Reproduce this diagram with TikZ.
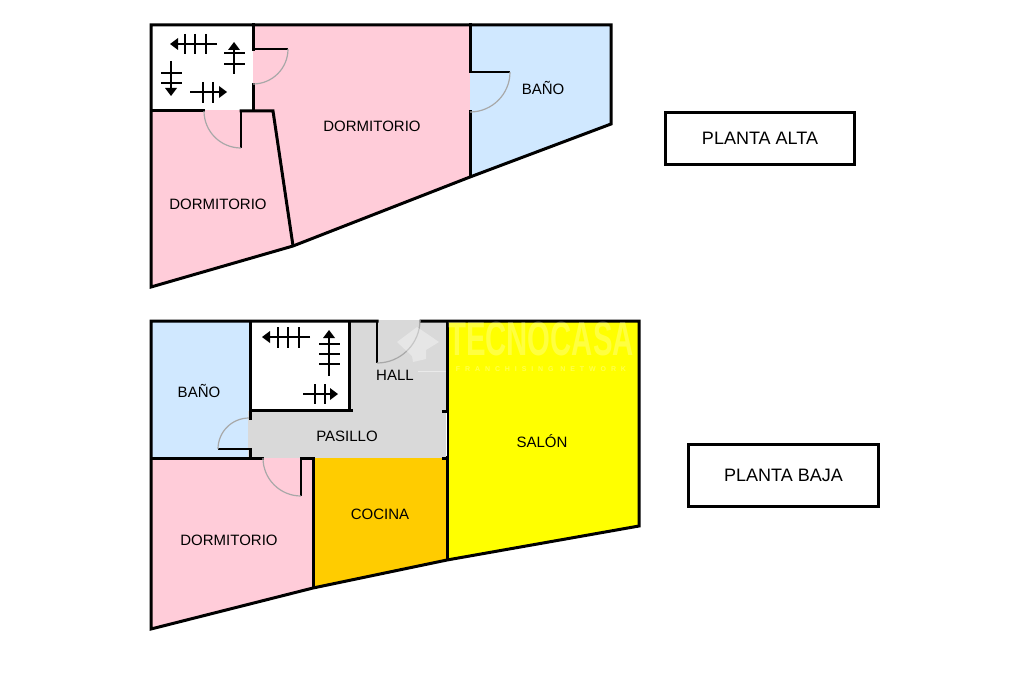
\documentclass[tikz,border=0pt]{standalone}
\usepackage{fontspec}
\setmainfont{Liberation Sans}
\definecolor{rosa}{HTML}{FFCCD9}
\definecolor{azul}{HTML}{D0E8FF}
\definecolor{gris}{HTML}{D9D9D9}
\definecolor{naranja}{HTML}{FFCC00}
\definecolor{amarillo}{HTML}{FFFF00}
\definecolor{puerta}{HTML}{A8A8A8}
\tikzset{
 x=1pt,y=-1pt,
 wall/.style={line width=3pt,line cap=rect,line join=miter,black},
 leaf/.style={line width=2pt,black},
 swing/.style={line width=1.2pt,puerta},
 run/.style={line width=2.4pt,black},
 tread/.style={line width=1.1pt,black},
 head/.style={fill=black,draw=none},
 room/.style={font=\fontsize{15}{15}\selectfont,inner sep=0pt},
 tag/.style={draw,line width=3pt,inner sep=0pt,font=\fontsize{18}{19}\selectfont},
}
\newcommand{\arrowL}[3]{\draw[run] (#1,#3)--(#2+6,#3); \fill[head] (#2,#3)--(#2+8,#3-6)--(#2+8,#3+6)--cycle;}
\newcommand{\arrowR}[3]{\draw[run] (#1,#3)--(#2-6,#3); \fill[head] (#2,#3)--(#2-8,#3-6)--(#2-8,#3+6)--cycle;}
\newcommand{\arrowU}[3]{\draw[run] (#3,#1)--(#3,#2+6); \fill[head] (#3,#2)--(#3-6,#2+8)--(#3+6,#2+8)--cycle;}
\newcommand{\arrowD}[3]{\draw[run] (#3,#1)--(#3,#2-6); \fill[head] (#3,#2)--(#3-6,#2-8)--(#3+6,#2-8)--cycle;}
\begin{document}
\begin{tikzpicture}
\useasboundingbox (0,0) rectangle (1024,682);
\fill[white] (0,0) rectangle (1024,682);
% ---------- PLANTA ALTA fills
\fill[rosa] (151,111)--(273,111)--(293,246)--(151,287)--cycle;
\fill[rosa] (253,25)--(470,25)--(470,177)--(293,246)--(273,111)--(253,111)--cycle;
\fill[azul] (470,25)--(611,25)--(611,124)--(470,177)--cycle;
\fill[rosa] (203,110) rectangle (241,113);
% walls
\draw[wall] (203,111)--(151,111);
\draw[wall] (151,25)--(611,25)--(611,124)--(470,177)--(293,246)--(151,287)--cycle;
\draw[wall] (253,25)--(253,50);
\draw[wall] (253,85)--(253,111);
\draw[wall] (241,111)--(273,111)--(292.8,244.5);
\draw[wall] (470,25)--(470,72);
\draw[wall] (470,112)--(470,175.5);
% doors
\draw[leaf] (253,49)--(288,49);
\draw[swing] (288,49) arc[start angle=0,end angle=90,radius=35];
\draw[leaf] (241,111)--(241,148);
\draw[swing] (241,148) arc[start angle=90,end angle=180,radius=37];
\draw[leaf] (470,72)--(510,72);
\draw[swing] (510,72) arc[start angle=0,end angle=90,radius=40];
% stairs
\arrowL{217}{170}{44}
\foreach \t in {185,195,206} \draw[tread] (\t,34)--(\t,54);
\arrowU{74}{42}{234}
\foreach \t in {53,64} \draw[tread] (224,\t)--(245,\t);
\arrowD{61}{96}{171}
\foreach \t in {73,83} \draw[tread] (161,\t)--(182,\t);
\arrowR{190}{227}{92}
\foreach \t in {203,213} \draw[tread] (\t,82)--(\t,103);
% ---------- PLANTA BAJA fills
\fill[azul] (151,321) rectangle (250,458);
\fill[gris] (349,320)--(446,320)--(446,458)--(248,458)--(248,411)--(349,411)--cycle;
\fill[naranja] (313,458)--(447,458)--(447,560)--(313,588)--cycle;
\fill[amarillo] (447,321)--(639,321)--(639,526)--(447,560)--cycle;
\fill[rosa] (151,458)--(313,458)--(313,588)--(151,629)--cycle;
% walls
\draw[wall] (377,321)--(151,321)--(151,629)--(313,588)--(447,560)--(639,526)--(639,321)--(421,321);
\draw[wall] (250,321)--(250,410)--(351,410);
\draw[wall] (349,321)--(349,410);
\draw[wall] (250,410)--(250,418);
\draw[wall] (250,449)--(250,458);
\draw[wall] (151,458)--(262,458);
\draw[wall] (301,458)--(313,458)--(313,586.5);
\draw[wall] (447,321)--(447,558.5);
\draw[wall] (443,411)--(447,411);
\draw[wall] (443,458)--(447,458);
\draw[white,line width=1pt] (446,413)--(446,456);
% doors
\draw[leaf] (377,321)--(377,363);
\draw[swing] (377,363) arc[start angle=90,end angle=0,radius=43];
\draw[leaf] (218,449)--(250,449);
\draw[swing] (218,449) arc[start angle=180,end angle=270,radius=31];
\draw[leaf] (301,458)--(301,496);
\draw[swing] (301,496) arc[start angle=90,end angle=180,radius=38];
% stairs
\arrowL{310}{262}{337}
\foreach \t in {278,288,299} \draw[tread] (\t,327)--(\t,348);
\arrowU{376}{330}{329}
\foreach \t in {344,354,364} \draw[tread] (319,\t)--(340,\t);
\arrowR{303}{338}{394}
\foreach \t in {315,325} \draw[tread] (\t,384)--(\t,404);
% watermark
\fill[white,opacity=.35] (397,342)--(417,327)--(439,342)--(426,350)--(426,359)--(413,362)--(412,356)--cycle;
\draw[white,opacity=.45,line width=1pt] (418,371)--(446,371);
\node[font=\bfseries\fontsize{48}{48}\selectfont,white,opacity=.25,inner sep=0pt,xscale=.61] (marca) at (541,339) {TECNOCASA};
\node[font=\bfseries\fontsize{7}{7}\selectfont\addfontfeature{LetterSpace=70},white,opacity=.3,inner sep=0pt] (red) at (541,369) {FRANCHISING NETWORK};
% labels
\node[room] (dorm1) at (372,126) {DORMITORIO};
\node[room] (bano1) at (543,88) {BAÑO};
\node[room] (dorm2) at (218,204) {DORMITORIO};
\node[room] (bano2) at (199,391) {BAÑO};
\node[room] (hall) at (395,375) {HALL};
\node[room] (pasillo) at (347,436) {PASILLO};
\node[room] (salon) at (542,441) {SALÓN};
\node[room] (cocina) at (380,514) {COCINA};
\node[room] (dorm3) at (229,540) {DORMITORIO};
\node[tag,minimum width=189pt,minimum height=51pt] (alta) at (760,138.5) {PLANTA ALTA};
\node[tag,minimum width=190pt,minimum height=62pt] (baja) at (783.5,475) {PLANTA BAJA};
\end{tikzpicture}
\end{document}
